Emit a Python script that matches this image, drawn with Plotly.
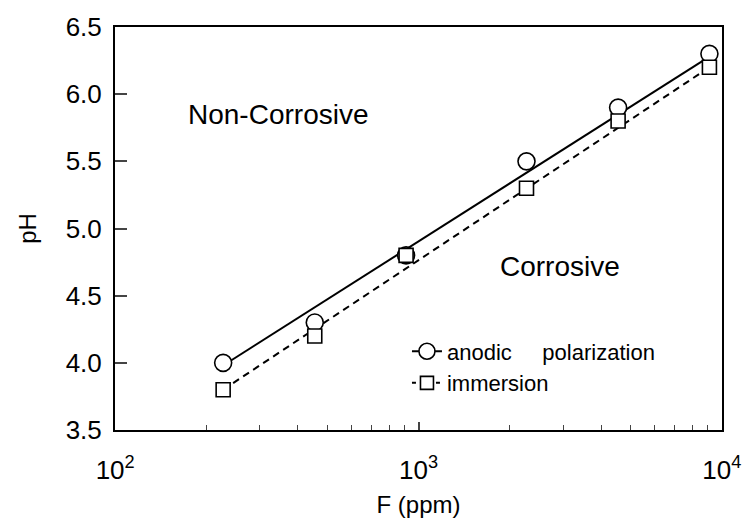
import plotly.graph_objects as go

# Data
F_ppm = [227, 455, 910, 2270, 4550, 9100]
ph_anodic = [4.0, 4.3, 4.8, 5.5, 5.9, 6.3]
ph_immersion = [3.8, 4.2, 4.8, 5.3, 5.8, 6.2]

# fitted boundary lines (end points)
fit_x = [227, 9100]
fit_anodic = [3.98, 6.28]
fit_immersion = [3.80, 6.20]

x_ticks = [100, 1000, 10000]
x_ticktext = ["10<sup>2</sup>", "10<sup>3</sup>", "10<sup>4</sup>"]
x_minor = [200, 300, 400, 500, 600, 700, 800, 900,
           2000, 3000, 4000, 5000, 6000, 7000, 8000, 9000]
y_ticks = [3.5, 4.0, 4.5, 5.0, 5.5, 6.0, 6.5]

font_family = "Liberation Sans, Arial, sans-serif"

fig = go.Figure()

# fitted lines (no legend)
fig.add_trace(go.Scatter(x=fit_x, y=fit_anodic, mode="lines",
                         line=dict(color="black", width=2), showlegend=False,
                         hoverinfo="skip"))
fig.add_trace(go.Scatter(x=fit_x, y=fit_immersion, mode="lines",
                         line=dict(color="black", width=2, dash="7px,5px"),
                         showlegend=False, hoverinfo="skip"))

# measured points
fig.add_trace(go.Scatter(x=F_ppm, y=ph_anodic, mode="markers", showlegend=False,
                         marker=dict(symbol="circle", size=17, color="white",
                                     line=dict(color="black", width=1.6))))
fig.add_trace(go.Scatter(x=F_ppm, y=ph_immersion, mode="markers", showlegend=False,
                         marker=dict(symbol="square", size=14, color="white",
                                     line=dict(color="black", width=1.6))))

# legend entries
fig.add_trace(go.Scatter(x=[None], y=[None], mode="markers+lines",
                         name="anodic\u00a0\u00a0\u00a0\u00a0\u00a0polarization",
                         line=dict(color="black", width=2),
                         marker=dict(symbol="circle", size=16, color="white",
                                     line=dict(color="black", width=1.6))))
fig.add_trace(go.Scatter(x=[None], y=[None], mode="markers+lines",
                         name="immersion",
                         line=dict(color="black", width=2, dash="4px,4px"),
                         marker=dict(symbol="square", size=13, color="white",
                                     line=dict(color="black", width=1.6))))

fig.add_annotation(x=2.537, y=5.85, xref="x", yref="y", text="Non-Corrosive",
                   showarrow=False, font=dict(size=28, color="black", family=font_family))
fig.add_annotation(x=3.467, y=4.72, xref="x", yref="y", text="Corrosive",
                   showarrow=False, font=dict(size=28, color="black", family=font_family))

fig.update_layout(
    width=753, height=529,
    margin=dict(l=115, r=23, t=18, b=99),
    paper_bgcolor="white", plot_bgcolor="white",
    font=dict(family=font_family, color="black", size=22),
    legend=dict(x=0.481, y=0.247, xanchor="left", yanchor="top",
                bgcolor="rgba(0,0,0,0)", font=dict(size=22),
                tracegroupgap=0),
    xaxis=dict(type="log", range=[1.9995, 4.0005], tickvals=x_ticks,
               ticktext=x_ticktext,
               ticks="inside", ticklen=8, tickwidth=1.5,
               ticklabelstandoff=16,
               showline=True, linecolor="black", linewidth=2, mirror=True,
               showgrid=False, zeroline=False,
               minor=dict(ticks="inside", ticklen=5, tickwidth=1,
                          tickvals=x_minor, showgrid=False),
               title=dict(text="F (ppm)", font=dict(size=24), standoff=12),
               tickfont=dict(size=26)),
    yaxis=dict(range=[3.5, 6.5], tickvals=y_ticks, tickformat=".1f",
               ticks="inside", ticklen=12, tickwidth=1.5,
               ticklabelstandoff=6,
               showline=True, linecolor="black", linewidth=2, mirror=True,
               showgrid=False, zeroline=False,
               title=dict(text="pH", font=dict(size=24), standoff=22),
               tickfont=dict(size=26)),
)

fig.write_html("out.html")
